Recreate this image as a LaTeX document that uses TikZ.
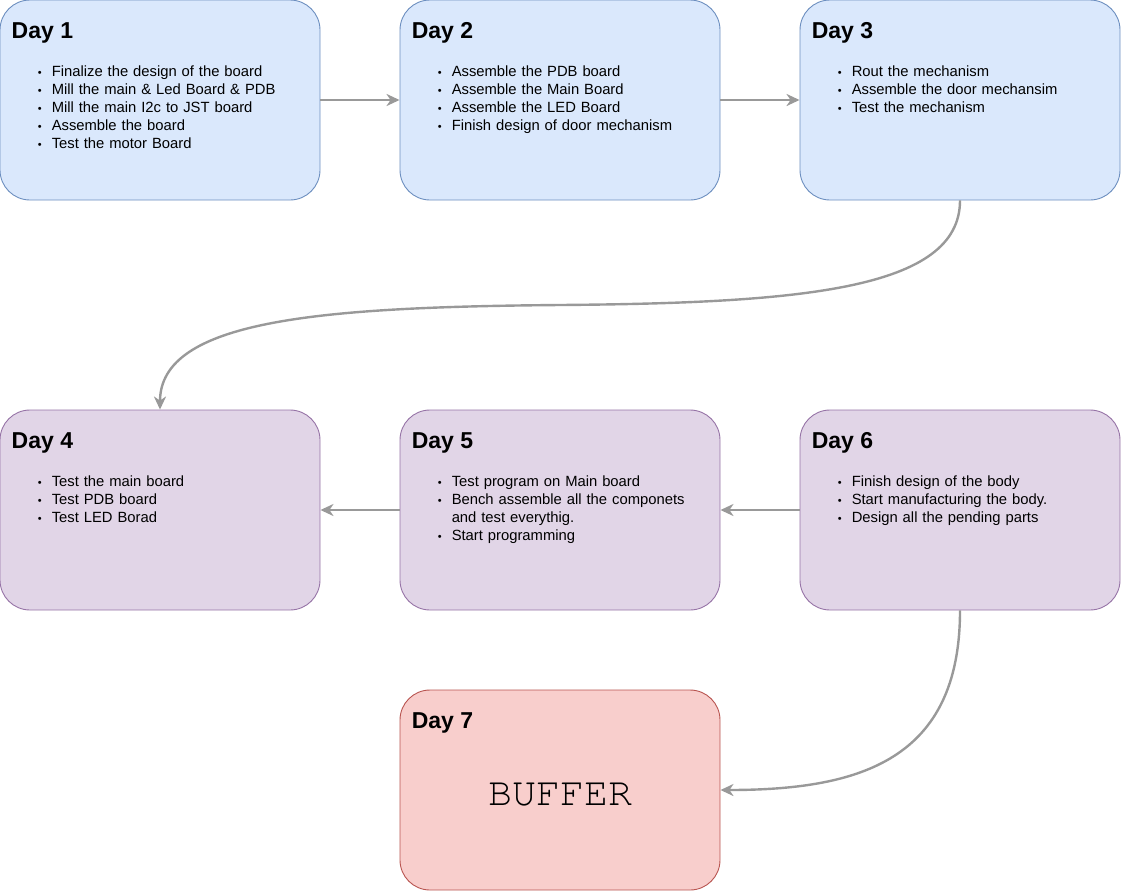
\documentclass[tikz,border=0pt]{standalone}
\usepackage{fontspec}
\setmainfont{Liberation Sans}
\newfontfamily\bufferfont{TeX Gyre Cursor}
\usepackage{tikz}
\usetikzlibrary{arrows.meta}

\definecolor{bluefill}{HTML}{DAE8FC}
\definecolor{bluedraw}{HTML}{6C8EBF}
\definecolor{purplefill}{HTML}{E1D5E7}
\definecolor{purpledraw}{HTML}{9673A6}
\definecolor{redfill}{HTML}{F8CECC}
\definecolor{reddraw}{HTML}{B85450}
\definecolor{flowgray}{HTML}{999999}

\newenvironment{tasklist}{\begin{list}{\fontsize{11}{11}\selectfont\textbullet}{%
  \setlength\leftmargin{26pt}\setlength\labelsep{10pt}\setlength\itemsep{0pt}%
  \setlength\parsep{0pt}\setlength\topsep{0pt}\setlength\partopsep{0pt}}}{\end{list}}

\begin{document}
\begin{tikzpicture}[x=1pt, y=-1pt,
  day/.style={rectangle, rounded corners=30pt, minimum width=320pt, minimum height=200pt, line width=0.9pt},
  head/.style={anchor=base west, inner sep=0pt, font=\fontsize{23}{27}\selectfont\bfseries},
  tasks/.style={anchor=north west, inner sep=0pt, text width=290pt, align=left, font=\fontsize{14.8}{18}\selectfont},
  flow/.style={draw=flowgray, line width=2.4pt, -{Stealth[length=13pt, width=12pt, inset=4pt]}}]
			\useasboundingbox (0,0) rectangle (1121,892);
			\node[day, fill=bluefill, draw=bluedraw] (d1) at (160,100){};
			\node[day, fill=bluefill, draw=bluedraw] (d2) at (560,100){};
			\node[day, fill=bluefill, draw=bluedraw] (d3) at (960,100){};
			\node[day, fill=purplefill, draw=purpledraw] (d4) at (160,510){};
			\node[day, fill=purplefill, draw=purpledraw] (d5) at (560,510){};
			\node[day, fill=purplefill, draw=purpledraw] (d6) at (960,510){};
			\node[day, fill=redfill, draw=reddraw] (d7) at (560,790){};
			
			\node[head] (h1) at ([shift={(12,39)}]d1.north west){Day 1};
			\node[head] (h2) at ([shift={(12,39)}]d2.north west){Day 2};
			\node[head] (h3) at ([shift={(12,39)}]d3.north west){Day 3};
			\node[head] (h4) at ([shift={(12,39)}]d4.north west){Day 4};
			\node[head] (h5) at ([shift={(12,39)}]d5.north west){Day 5};
			\node[head] (h6) at ([shift={(12,39)}]d6.north west){Day 6};
			\node[head] (h7) at ([shift={(12,39)}]d7.north west){Day 7};
			
			\node[tasks] (t1) at ([shift={(26,59)}]d1.north west){\begin{tasklist}
				\item Finalize the design of the board
				\item Mill the main \& Led Board \& PDB
				\item Mill the main I2c to JST board
				\item Assemble the board
				\item Test the motor Board
			\end{tasklist}};
			\node[tasks] (t2) at ([shift={(26,59)}]d2.north west){\begin{tasklist}
				\item Assemble the PDB board
				\item Assemble the Main Board
				\item Assemble the LED Board
				\item Finish design of door mechanism
			\end{tasklist}};
			\node[tasks] (t3) at ([shift={(26,59)}]d3.north west){\begin{tasklist}
				\item Rout the mechanism
				\item Assemble the door mechansim
				\item Test the mechanism
			\end{tasklist}};
			\node[tasks] (t4) at ([shift={(26,59)}]d4.north west){\begin{tasklist}
				\item Test the main board
				\item Test PDB board
				\item Test LED Borad
			\end{tasklist}};
			\node[tasks] (t5) at ([shift={(26,59)}]d5.north west){\begin{tasklist}
				\item Test program on Main board
				\item Bench assemble all the componets\newline and test everythig.
				\item Start programming
			\end{tasklist}};
			\node[tasks] (t6) at ([shift={(26,59)}]d6.north west){\begin{tasklist}
				\item Finish design of the body
				\item Start manufacturing the body.
				\item Design all the pending parts
			\end{tasklist}};
			\node[inner sep=0pt, font=\fontsize{40}{40}\selectfont\bufferfont] (buf) at (560,795){BUFFER};
			
			\coordinate (mid) at (560,305);
			\path (d1) edge[flow] (d2);
			\path (d2) edge[flow] (d3);
			\path (d6) edge[flow] (d5);
			\path (d5) edge[flow] (d4);
			\draw[flow] (d3.south) .. controls (960,290) and (800,303) .. (mid) .. controls (320,307) and (160,320) .. (d4.north);
			\draw[flow] (d6.south) .. controls (960,760) and (860,790) .. (d7.east);
			\end{tikzpicture}
\end{document}
